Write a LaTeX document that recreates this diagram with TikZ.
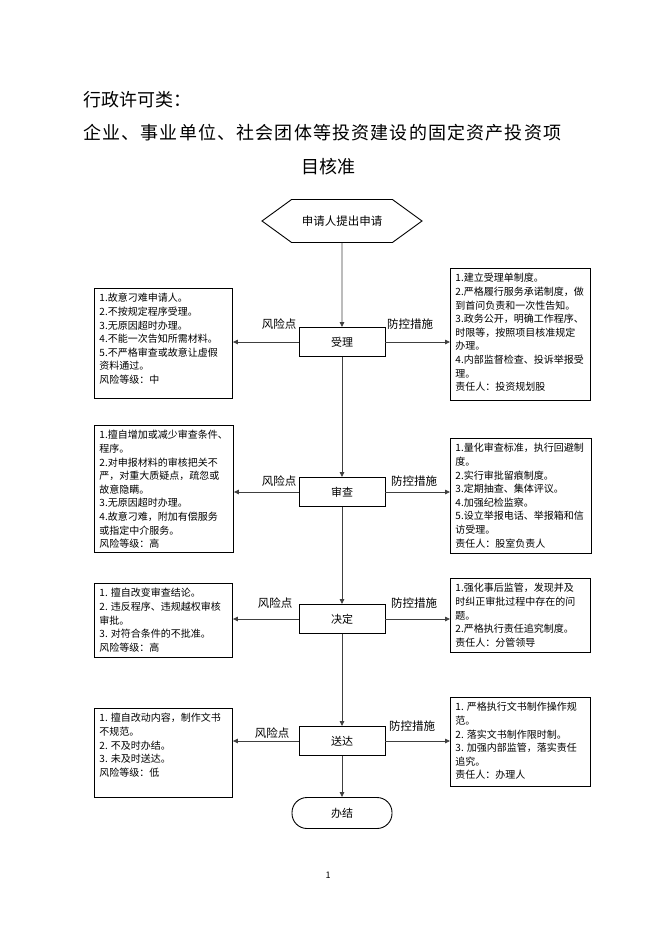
\documentclass[tikz,border=0pt]{standalone}
\usepackage{fontspec}
\setmainfont{Noto Sans CJK SC}
\usetikzlibrary{arrows.meta, shapes.symbols}
\newcommand{\boxtext}[3]{\parbox[c][#1][t]{#2}{\fontsize{10pt}{13.6pt}\selectfont\raggedright #3}}

\begin{document}
\begin{tikzpicture}[
      x=1pt, y=-1pt,
      flow/.style={draw=black!75, line width=0.8pt, -{Triangle[length=5pt,width=4.5pt]}},
      stepbox/.style={draw, line width=0.9pt, minimum width=86pt, minimum height=29pt, font=\fontsize{11pt}{12pt}\selectfont},
      infobox/.style={draw, line width=0.9pt, inner sep=5pt, anchor=north west},
      lbl/.style={font=\fontsize{11.5pt}{12pt}\selectfont, inner sep=0pt},
      ttl/.style={font=\fontsize{18pt}{20pt}\selectfont, inner sep=0pt},
    ]
    \useasboundingbox (0,0) rectangle (662,936);

    % title
    \node[ttl, anchor=west] (t1) at (83,100) {行政许可类：};
    \node[ttl, anchor=west] (t2) at (83,133) {\addfontfeature{LetterSpace=6.5}企业、事业单位、社会团体等投资建设的固定资产投资项};
    \node[ttl] (t3) at (328,167) {目核准};

    % main flow
    \node[draw, line width=0.9pt, shape=signal, signal to=west and east, signal pointer angle=72,
          minimum width=160pt, minimum height=43pt, font=\fontsize{11.5pt}{12pt}\selectfont] (s0) at (342,221) {申请人提出申请};
    \node[stepbox] (s1) at (342,342) {受理};
    \node[stepbox] (s2) at (342,492) {审查};
    \node[stepbox] (s3) at (342,619) {决定};
    \node[stepbox] (s4) at (342,741) {送达};
    \node[draw, line width=0.9pt, rounded corners=15pt, minimum width=100pt, minimum height=31pt,
          font=\fontsize{11pt}{12pt}\selectfont] (s5) at (342,813) {办结};

    % risk points
    \node[infobox] (r1) at (94,288) {\boxtext{100pt}{128pt}{1.故意刁难申请人。\\2.不按规定程序受理。\\3.无原因超时办理。\\4.不能一次告知所需材料。\\5.不严格审查或故意让虚假\\资料通过。\\风险等级：中}};
    \node[infobox] (r2) at (94,425) {\boxtext{117pt}{129pt}{1.擅自增加或减少审查条件、\\程序。\\2.对申报材料的审核把关不\\严，对重大质疑点，疏忽或\\故意隐瞒。\\3.无原因超时办理。\\4.故意刁难，附加有偿服务\\或指定中介服务。\\风险等级：高}};
    \node[infobox] (r3) at (94,583) {\boxtext{64pt}{128pt}{1. 擅自改变审查结论。\\2. 违反程序、违规越权审核\\审批。\\3. 对符合条件的不批准。\\风险等级：高}};
    \node[infobox] (r4) at (94,708) {\boxtext{79pt}{128pt}{1. 擅自改动内容，制作文书\\不规范。\\2. 不及时办结。\\3. 未及时送达。\\风险等级：低}};

    % control measures
    \node[infobox] (c1) at (450,268) {\boxtext{122pt}{130pt}{1.建立受理单制度。\\2.严格履行服务承诺制度，做\\到首问负责和一次性告知。\\3.政务公开，明确工作程序、\\时限等，按照项目核准规定\\办理。\\4.内部监督检查、投诉举报受\\理。\\责任人：投资规划股}};
    \node[infobox] (c2) at (450,438) {\boxtext{105pt}{131pt}{1.量化审查标准，执行回避制\\度。\\2.实行审批留痕制度。\\3.定期抽查、集体评议。\\4.加强纪检监察。\\5.设立举报电话、举报箱和信\\访受理。\\责任人：股室负责人}};
    \node[infobox] (c3) at (450,578) {\boxtext{64pt}{130pt}{1.强化事后监管，发现并及\\时纠正审批过程中存在的问\\题。\\2.严格执行责任追究制度。\\责任人：分管领导}};
    \node[infobox] (c4) at (450,697) {\boxtext{79pt}{130pt}{1. 严格执行文书制作操作规\\范。\\2. 落实文书制作限时制。\\3. 加强内部监管，落实责任\\追究。\\责任人：办理人}};

    % labels
    \node[lbl] (lr1) at (279,324) {风险点};
    \node[lbl] (lc1) at (410,324) {防控措施};
    \node[lbl] (lr2) at (279,481) {风险点};
    \node[lbl] (lc2) at (414,481) {防控措施};
    \node[lbl] (lr3) at (275,603) {风险点};
    \node[lbl] (lc3) at (414,603) {防控措施};
    \node[lbl] (lr4) at (272,733) {风险点};
    \node[lbl] (lc4) at (412,726) {防控措施};

    \node[font=\fontsize{9pt}{10pt}\selectfont] (pg) at (328,875) {1};

    % connectors
    \draw[flow] (s0) -- (s1);
    \draw[flow] (s1) -- (s2);
    \draw[flow] (s2) -- (s3);
    \draw[flow] (s3) -- (s4);
    \draw[flow] (s4) -- (s5);
    \foreach \i in {1,...,4} {
      \draw[flow] (s\i.west) -- (s\i.west -| r\i.east);
      \draw[flow] (s\i.east) -- (s\i.east -| c\i.west);
    }
  \end{tikzpicture}
\end{document}
